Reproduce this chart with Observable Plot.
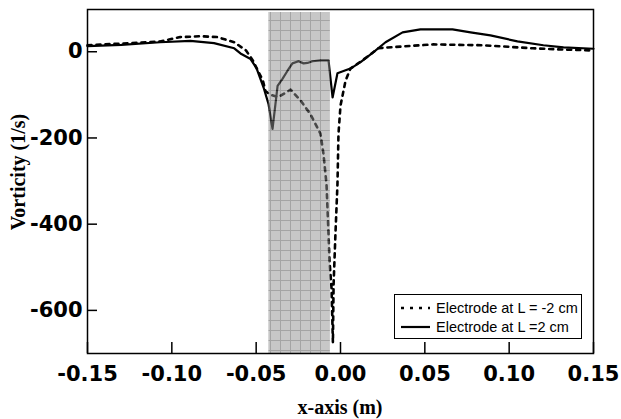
<!DOCTYPE html>
<html>
<head>
<meta charset="utf-8">
<script src="https://cdn.jsdelivr.net/npm/d3@7"></script>
<script src="https://cdn.jsdelivr.net/npm/@observablehq/plot@0.6"></script>
<style>
  html, body { margin: 0; padding: 0; background: white; }
  #wrap { position: relative; width: 621px; height: 419px; }
  #legend {
    position: absolute; left: 394px; top: 294px; width: 186px; height: 43px;
    border: 1.5px solid black; background: white;
    font-family: "Liberation Sans", Arial, sans-serif; font-size: 14.5px; color: black;
  }
  .row { position: absolute; left: 0; height: 18px; display: flex; align-items: center; }
  .row svg { margin-left: 5px; margin-right: 6px; }
  #ytitle {
    position: absolute; left: 18px; top: 172px; transform: translate(-50%, -50%) rotate(-90deg);
    font-family: "Liberation Serif", serif; font-weight: bold; font-size: 20px; white-space: nowrap; color: black;
  }
  #xtitle {
    position: absolute; left: 340px; top: 396px; transform: translateX(-50%);
    font-family: "Liberation Serif", serif; font-weight: bold; font-size: 20px; white-space: nowrap; color: black;
  }
</style>
</head>
<body>
<div id="wrap"></div>
<script>
// Series: electrode at L = -2 cm (dashed)
const dashedX = [-0.150, -0.125, -0.107, -0.095, -0.083, -0.073, -0.063, -0.056, -0.052, -0.049, -0.046, -0.0445, -0.0415, -0.0368, -0.0296, -0.0237, -0.0178, -0.0119, -0.0101, -0.0083, -0.0071, -0.0065, -0.0053, -0.0045, -0.0041, -0.003, -0.0018, -0.0012, 0.000, 0.003, 0.0059, 0.013, 0.0225, 0.028, 0.055, 0.085, 0.114, 0.132, 0.150];
const dashedY = [15, 20, 24, 34, 36, 34, 22, 3, -20, -44, -67, -91, -100, -105, -88, -113, -145, -190, -237, -307, -423, -486, -549, -675, -540, -423, -307, -191, -125, -67, -39, -20, 8, 10, 17, 15, 8, 5, 3];
// Series: electrode at L = 2 cm (solid)
const solidX = [-0.150, -0.130, -0.107, -0.089, -0.075, -0.063, -0.0593, -0.0533, -0.0498, -0.0456, -0.0427, -0.0403, -0.0373, -0.0344, -0.0314, -0.0285, -0.0249, -0.0219, -0.0196, -0.0166, -0.0119, -0.0071, -0.0047, -0.0018, 0.003, 0.0059, 0.0119, 0.0196, 0.0267, 0.0368, 0.0474, 0.0664, 0.0771, 0.0889, 0.1049, 0.1203, 0.1322, 0.150];
const solidY = [13, 16, 22, 25, 20, 8, -4, -17, -38, -83, -121, -179, -79, -63, -44, -27, -22, -27, -26, -22, -20, -20, -106, -50, -43, -39, -24, -1, 22, 45, 52, 52, 45, 38, 24, 15, 10, 7];
// Electrode region (shaded band)
const shadeX1 = [-0.0425];
const shadeX2 = [-0.006];
// Ticks
const xTicks = [-0.15, -0.10, -0.05, 0.00, 0.05, 0.10, 0.15];
const yTicks = [0, -200, -400, -600];
const seriesNames = ["Electrode at L = -2 cm", "Electrode at L =2 cm"];
const xTitle = "x-axis (m)";
const yTitle = "Vorticity (1/s)";

const xDomain = [-0.15, 0.15];
const yDomain = [-700, 98];

const W = 621, H = 419, mL = 87, mR = 28, mT = 9, mB = 66;
const frameW = W - mL - mR, frameH = H - mT - mB;
const xTickLen = 11 * (yDomain[1] - yDomain[0]) / frameH;
const yTickLen = 10 * (xDomain[1] - xDomain[0]) / frameW;

const dashed = dashedX.map((x, i) => ({x, y: dashedY[i]}));
const solid = solidX.map((x, i) => ({x, y: solidY[i]}));
const shade = shadeX1.map((x1, i) => ({x1, x2: shadeX2[i]}));
const xTickData = xTicks.map(v => ({v, y1: yDomain[0], y2: yDomain[0] + xTickLen}));
const yTickData = yTicks.map(v => ({v, x1: xDomain[0], x2: xDomain[0] + yTickLen}));

const svg = Plot.plot({
  width: W, height: H,
  marginLeft: mL, marginRight: mR, marginTop: mT, marginBottom: mB,
  x: {domain: xDomain},
  y: {domain: yDomain},
  style: {fontFamily: "DejaVu Sans", fontWeight: "bold", fontSize: "21px", color: "black", background: "white"},
  marks: [
    Plot.line(dashed, {x: "x", y: "y", stroke: "black", strokeWidth: 2.6, strokeDasharray: "4,5"}),
    Plot.line(solid, {x: "x", y: "y", stroke: "black", strokeWidth: 2.2}),
    Plot.rect(shade, {x1: "x1", x2: "x2", fill: "url(#grid)", fillOpacity: 0.5, insetTop: 3}),
    Plot.ruleX(xTickData, {x: "v", y1: "y1", y2: "y2", stroke: "black", strokeWidth: 1.5}),
    Plot.ruleY(yTickData, {y: "v", x1: "x1", x2: "x2", stroke: "black", strokeWidth: 1.5}),
    Plot.axisX({ticks: xTicks, tickSize: 0, tickPadding: 13, tickFormat: d => d.toFixed(2), label: null}),
    Plot.axisY({ticks: yTicks, tickSize: 0, tickPadding: 5, tickFormat: d => String(d), label: null}),
    Plot.frame({stroke: "black", strokeWidth: 1.5})
  ]
});

d3.select(svg).insert("defs", ":first-child").html(
  '<pattern id="grid" width="10" height="10" patternUnits="userSpaceOnUse">' +
  '<rect width="10" height="10" fill="#8f8f8f"/>' +
  '<path d="M0,0.5H10M0.5,0V10" stroke="#4a4a4a" stroke-width="1"/></pattern>'
);

const wrap = document.getElementById("wrap");
wrap.appendChild(svg);

const yt = document.createElement("div");
yt.id = "ytitle"; yt.textContent = yTitle; wrap.appendChild(yt);
const xt = document.createElement("div");
xt.id = "xtitle"; xt.textContent = xTitle; wrap.appendChild(xt);

const legend = document.createElement("div");
legend.id = "legend";
legend.innerHTML =
  '<div class="row" style="top:4px"><svg width="30" height="6"><line x1="1" y1="3" x2="30" y2="3" stroke="black" stroke-width="2.5" stroke-dasharray="3,6"/></svg>' + seriesNames[0] + '</div>' +
  '<div class="row" style="top:23px"><svg width="30" height="6"><line x1="1" y1="3" x2="30" y2="3" stroke="black" stroke-width="2.2"/></svg>' + seriesNames[1] + '</div>';
wrap.appendChild(legend);
</script>
</body>
</html>
